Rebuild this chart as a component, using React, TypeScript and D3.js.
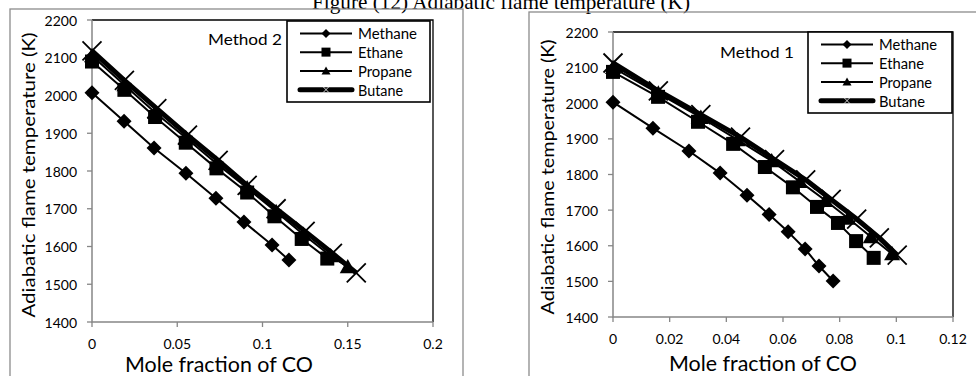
import React from "react";
import * as d3 from "d3";

const TITLE = "Figure (12) Adiabatic flame temperature (K)";
const SERIES_NAMES = ["Methane", "Ethane", "Propane", "Butane"];
const Y_TICKS = [1400, 1500, 1600, 1700, 1800, 1900, 2000, 2100, 2200];
const X_TICKS_M2 = [0, 0.05, 0.1, 0.15, 0.2];
const X_TICKS_M1 = [0, 0.02, 0.04, 0.06, 0.08, 0.1, 0.12];

// Method 2 (left panel)
const methane2X = [0, 0.0188, 0.0364, 0.0551, 0.0727, 0.0891, 0.1056, 0.1155];
const methane2T = [2007, 1932, 1861, 1794, 1728, 1665, 1604, 1564];
const ethane2X = [0, 0.019, 0.037, 0.055, 0.073, 0.091, 0.107, 0.123, 0.138];
const ethane2T = [2090, 2015, 1943, 1875, 1807, 1743, 1680, 1620, 1568];
const propane2X = [0, 0.019, 0.037, 0.055, 0.073, 0.091, 0.108, 0.124, 0.14, 0.15];
const propane2T = [2105, 2028, 1955, 1888, 1820, 1755, 1692, 1632, 1575, 1546];
const butane2X = [0, 0.019, 0.038, 0.056, 0.074, 0.091, 0.108, 0.125, 0.141, 0.155];
const butane2T = [2118, 2040, 1965, 1895, 1828, 1762, 1700, 1640, 1582, 1530];

// Method 1 (right panel)
const methane1X = [0, 0.0141, 0.0268, 0.0378, 0.0473, 0.0551, 0.0618, 0.0678, 0.0727, 0.0777];
const methane1T = [2003, 1930, 1866, 1804, 1742, 1688, 1639, 1591, 1543, 1501];
const ethane1X = [0, 0.0159, 0.03, 0.0424, 0.0536, 0.0635, 0.072, 0.0794, 0.0858, 0.092];
const ethane1T = [2088, 2018, 1948, 1886, 1821, 1764, 1709, 1664, 1613, 1566];
const propane1X = [0, 0.016, 0.031, 0.044, 0.056, 0.066, 0.075, 0.083, 0.091, 0.0985];
const propane1T = [2100, 2028, 1960, 1897, 1838, 1780, 1727, 1677, 1625, 1577];
const butane1X = [0, 0.016, 0.031, 0.045, 0.057, 0.068, 0.077, 0.086, 0.094, 0.1003];
const butane1T = [2113, 2035, 1968, 1905, 1842, 1785, 1730, 1675, 1622, 1574];

const FONT = "Lato, 'Open Sans', sans-serif";
const AXIS_GRAY = "#868686";

type Marker = "diamond" | "square" | "triangle" | "x";
const MARKERS: Marker[] = ["diamond", "square", "triangle", "x"];
const LINE_W = [2, 2, 2, 5];

function drawMarker(type: Marker, x: number, y: number, s: number, key: string) {
  if (type === "diamond") {
    const h = s;
    return <path key={key} d={`M${x},${y - h}L${x + h},${y}L${x},${y + h}L${x - h},${y}Z`} fill="#000" />;
  }
  if (type === "square") {
    return <rect key={key} x={x - s} y={y - s} width={2 * s} height={2 * s} fill="#000" />;
  }
  if (type === "triangle") {
    const h = s;
    return <path key={key} d={`M${x},${y - h}L${x + h},${y + h * 0.8}L${x - h},${y + h * 0.8}Z`} fill="#000" />;
  }
  return (
    <path key={key} d={`M${x - s},${y - s}L${x + s},${y + s}M${x - s},${y + s}L${x + s},${y - s}`} stroke="#000" strokeWidth={1.8} fill="none" />
  );
}

type PanelCfg = {
  frame: { x: number; y: number; w: number; h: number };
  plot: { l: number; r: number; t: number; b: number };
  xMax: number;
  xTicks: number[];
  series: { xs: number[]; ts: number[] }[];
  method: string;
  methodPos: [number, number];
  legend: { x: number; y: number; w: number; h: number };
  legendWidths: number[];
  yLabelX: number;
  yLabelY: number;
  yLabelLen: number;
  xLabelX: number;
  xLabelY: number;
};

const fmt = (v: number) => (v === 0 ? "0" : String(+v.toFixed(2)));

function Panel({ cfg }: { cfg: PanelCfg }) {
  const { plot } = cfg;
  const x = d3.scaleLinear().domain([0, cfg.xMax]).range([plot.l, plot.r]);
  const y = d3.scaleLinear().domain([1400, 2200]).range([plot.b, plot.t]);
  const line = d3
    .line<[number, number]>()
    .x((d) => x(d[0]))
    .y((d) => y(d[1]));
  const markerSize = [7.5, 7, 8, 9.5];
  const lg = cfg.legend;
  const rowH = (lg.h - 6) / 4;
  return (
    <g>
      <rect x={cfg.frame.x} y={cfg.frame.y} width={cfg.frame.w} height={cfg.frame.h} fill="none" stroke="#8c8c8c" strokeWidth={1.3} />
      <path d={`M${plot.l},${plot.t}H${plot.r}V${plot.b}`} fill="none" stroke="#000" strokeWidth={1.3} />
      <path d={`M${plot.l},${plot.t}V${plot.b}H${plot.r}`} fill="none" stroke={AXIS_GRAY} strokeWidth={1.5} />
      {Y_TICKS.map((t) => (
        <g key={"y" + t}>
          <line x1={plot.l - 5} x2={plot.l} y1={y(t)} y2={y(t)} stroke={AXIS_GRAY} strokeWidth={1.3} />
          <text x={plot.l - 15} y={y(t)} textAnchor="end" dominantBaseline="central" fontFamily={FONT} fontSize={14} fill="#000">
            {t}
          </text>
        </g>
      ))}
      {cfg.xTicks.map((t) => (
        <g key={"x" + t}>
          <line x1={x(t)} x2={x(t)} y1={plot.b} y2={plot.b + 5} stroke={AXIS_GRAY} strokeWidth={1.3} />
          <text x={x(t)} y={plot.b + 21} textAnchor="middle" dominantBaseline="central" fontFamily={FONT} fontSize={14} fill="#000">
            {fmt(t)}
          </text>
        </g>
      ))}
      <text
        transform={`translate(${cfg.yLabelX},${cfg.yLabelY}) rotate(-90)`}
        textAnchor="middle"
        dominantBaseline="central"
        fontFamily={FONT}
        fontSize={18}
        textLength={cfg.yLabelLen}
        lengthAdjust="spacingAndGlyphs"
        fill="#000"
      >
        Adiabatic flame temperature (K)
      </text>
      <text
        x={cfg.xLabelX}
        y={cfg.xLabelY}
        textAnchor="middle"
        fontFamily={FONT}
        fontSize={20.5}
        textLength={188}
        lengthAdjust="spacingAndGlyphs"
        fill="#000"
      >
        Mole fraction of CO
      </text>
      <text x={cfg.methodPos[0]} y={cfg.methodPos[1]} fontFamily={FONT} fontSize={16} textLength={74} lengthAdjust="spacingAndGlyphs" fill="#000">
        {cfg.method}
      </text>
      {cfg.series.map((s, i) => {
        const pts: [number, number][] = s.xs.map((v, j) => [v, s.ts[j]]);
        return (
          <g key={"s" + i}>
            <path d={line(pts) || ""} fill="none" stroke="#000" strokeWidth={LINE_W[i]} strokeLinejoin="round" />
            {pts.map((p, j) => drawMarker(MARKERS[i], x(p[0]), y(p[1]), markerSize[i], `m${i}-${j}`))}
          </g>
        );
      })}
      <rect x={lg.x} y={lg.y} width={lg.w} height={lg.h} fill="#fff" stroke="#000" strokeWidth={1.6} />
      {SERIES_NAMES.map((n, i) => {
        const cy = lg.y + 3 + rowH * (i + 0.5);
        const x0 = lg.x + 13;
        const x1 = lg.x + 65;
        const mid = (x0 + x1) / 2;
        return (
          <g key={"l" + i}>
            <line x1={x0} x2={x1} y1={cy} y2={cy} stroke="#000" strokeWidth={LINE_W[i]} strokeLinecap={i === 3 ? "round" : "butt"} />
            {i < 3 ? (
              drawMarker(MARKERS[i], mid, cy, 4.5, "lm" + i)
            ) : (
              <path d={`M${mid - 3},${cy - 3}L${mid + 3},${cy + 3}M${mid - 3},${cy + 3}L${mid + 3},${cy - 3}`} stroke="#fff" strokeWidth={0.8} />
            )}
            <text
              x={x1 + 6}
              y={cy}
              dominantBaseline="central"
              fontFamily={FONT}
              fontSize={15.5}
              textLength={cfg.legendWidths[i]}
              lengthAdjust="spacingAndGlyphs"
              fill="#000"
            >
              {n}
            </text>
          </g>
        );
      })}
    </g>
  );
}

export default function App() {
  const left: PanelCfg = {
    frame: { x: 10, y: 9, w: 453, h: 380 },
    plot: { l: 92, r: 433, t: 20, b: 322 },
    xMax: 0.2,
    xTicks: X_TICKS_M2,
    series: [
      { xs: methane2X, ts: methane2T },
      { xs: ethane2X, ts: ethane2T },
      { xs: propane2X, ts: propane2T },
      { xs: butane2X, ts: butane2T },
    ],
    method: "Method 2",
    methodPos: [208, 45],
    legend: { x: 287, y: 21, w: 143, h: 81 },
    legendWidths: [59, 45, 54, 45],
    yLabelX: 28,
    yLabelY: 175,
    yLabelLen: 285,
    xLabelX: 219,
    xLabelY: 372,
  };
  const right: PanelCfg = {
    frame: { x: 529, y: 12, w: 460, h: 380 },
    plot: { l: 613, r: 953, t: 32, b: 317 },
    xMax: 0.12,
    xTicks: X_TICKS_M1,
    series: [
      { xs: methane1X, ts: methane1T },
      { xs: ethane1X, ts: ethane1T },
      { xs: propane1X, ts: propane1T },
      { xs: butane1X, ts: butane1T },
    ],
    method: "Method 1",
    methodPos: [720, 58],
    legend: { x: 808, y: 32, w: 144, h: 81 },
    legendWidths: [58, 45, 53, 46],
    yLabelX: 547,
    yLabelY: 177,
    yLabelLen: 275,
    xLabelX: 763,
    xLabelY: 371,
  };
  return (
    <svg width={976} height={376} style={{ position: "absolute", left: 0, top: 0, background: "#fff" }}>
      <rect width={976} height={376} fill="#fff" />
      <text
        x={501}
        y={8.5}
        textAnchor="middle"
        fontFamily="'Liberation Serif', 'Times New Roman', serif"
        fontSize={21}
        textLength={378}
        lengthAdjust="spacingAndGlyphs"
        fill="#000"
      >
        {TITLE}
      </text>
      <Panel cfg={left} />
      <Panel cfg={right} />
    </svg>
  );
}
